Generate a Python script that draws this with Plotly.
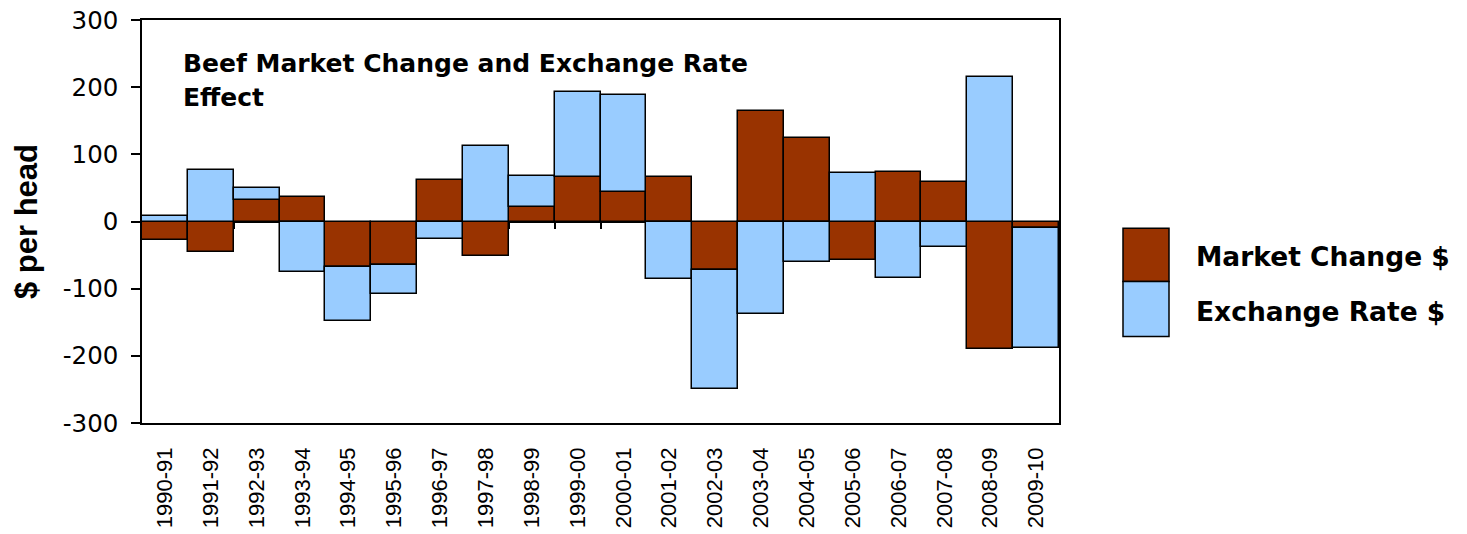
import plotly.graph_objects as go

seasons = ["1990-91", "1991-92", "1992-93", "1993-94", "1994-95", "1995-96", "1996-97",
           "1997-98", "1998-99", "1999-00", "2000-01", "2001-02", "2002-03", "2003-04",
           "2004-05", "2005-06", "2006-07", "2007-08", "2008-09", "2009-10"]
market_change = [-27, -46, 32, 37, -67, -65, 62, -52, 21, 66, 44, 66, -72, 164,
                 124, -58, 73, 59, -190, -10]
exchange_rate = [8, 77, 18, -75, -81, -43, -26, 113, 47, 127, 145, -86, -177, -137,
                 -60, 72, -84, -38, 215, -179]
y_ticks = [-300, -200, -100, 0, 100, 200, 300]
y_tick_text = ["-300", "-200", "-100", "0", "100", "200", "300"]
boundaries = [i - 0.5 for i in range(len(seasons) + 1)]

FONT = "Liberation Sans, Arial, sans-serif"
WIDE = "DejaVu Sans, Liberation Sans, sans-serif"
BROWN = "#993300"
BLUE = "#99CCFF"

fig = go.Figure()
fig.add_trace(go.Bar(x=seasons, y=market_change, name="Market Change $",
                     marker=dict(color=BROWN, line=dict(color="black", width=1.5))))
fig.add_trace(go.Bar(x=seasons, y=exchange_rate, name="Exchange Rate $",
                     marker=dict(color=BLUE, line=dict(color="black", width=1.5))))

fig.update_layout(
    width=1467, height=534, autosize=False,
    barmode="relative", bargap=0,
    showlegend=False,
    plot_bgcolor="white", paper_bgcolor="white",
    margin=dict(l=142, r=408, t=20, b=111),
    font=dict(family=FONT, color="black"),
    xaxis=dict(
        type="category", tickangle=-90, tickfont=dict(size=22, family=FONT),
        showline=True, linecolor="black", linewidth=1.5, mirror=True,
        ticks="", ticklabelstandoff=14, showgrid=False, zeroline=False,
        automargin=False,
    ),
    yaxis=dict(
        range=[-300, 300], tickvals=y_ticks, ticktext=y_tick_text,
        tickfont=dict(size=24.5, family=WIDE), ticks="outside", ticklen=9,
        tickcolor="black", tickwidth=1.5, ticklabelstandoff=8,
        showline=True, linecolor="black", linewidth=1.5, mirror=True,
        showgrid=False, zeroline=False, automargin=False,
        title=dict(text="<b>$ per head</b>", font=dict(size=31, family=FONT), standoff=16),
    ),
    xaxis2=dict(
        overlaying="x", anchor="free", position=0.5, range=[-0.5, len(seasons) - 0.5],
        tickvals=boundaries, showticklabels=False, ticks="outside", ticklen=7,
        tickcolor="black", tickwidth=1.5, showline=True, linecolor="black",
        linewidth=1.5, showgrid=False, zeroline=False, layer="below traces",
        automargin=False,
    ),
)

# invisible trace to activate the zero-line category axis
fig.add_trace(go.Scatter(x=[0], y=[0], xaxis="x2", mode="markers",
                         marker=dict(opacity=0), showlegend=False, hoverinfo="skip"))

# title inside the plot area
for txt, ypos in [("Beef Market Change and Exchange Rate", 0.893), ("Effect", 0.807)]:
    fig.add_annotation(text="<b>" + txt + "</b>", xref="paper", yref="paper",
                       x=0.0425, y=ypos, xanchor="left", yanchor="middle", showarrow=False,
                       font=dict(size=25, family=WIDE))

# custom legend with large swatches
def px_x(p):
    return (p - 142) / (1059 - 142)

def px_y(p):
    return (423.3 - p) / (423.3 - 20)

legend_items = [("Market Change $", BROWN, 228.3, 281.7, 257),
                ("Exchange Rate $", BLUE, 281.7, 336.7, 312)]
for label, color, top, bottom, mid in legend_items:
    fig.add_shape(type="rect", xref="paper", yref="paper",
                  x0=px_x(1123), x1=px_x(1169), y0=px_y(bottom), y1=px_y(top),
                  fillcolor=color, line=dict(color="black", width=1.5))
    fig.add_annotation(text="<b>" + label + "</b>", xref="paper", yref="paper",
                       x=px_x(1194), y=px_y(mid), xanchor="left", yanchor="middle",
                       showarrow=False, font=dict(size=26.5, family=WIDE))

fig.write_html("out.html", config={"displayModeBar": False},
               post_script="document.body.style.margin='0';")
